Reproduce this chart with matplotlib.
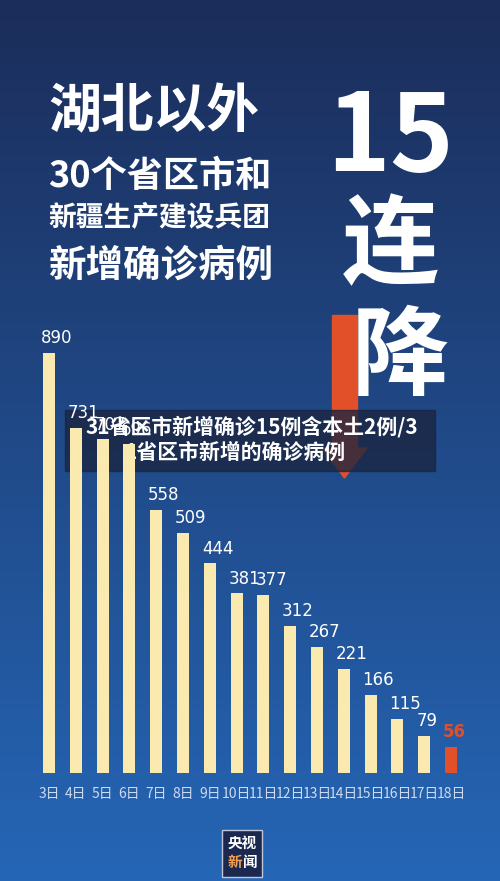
import matplotlib
matplotlib.use("Agg")
import matplotlib.pyplot as plt
import numpy as np
from matplotlib.patches import Rectangle

days = ["3日","4日","5日","6日","7日","8日","9日","10日","11日","12日","13日","14日","15日","16日","17日","18日"]
values = [890, 731, 707, 696, 558, 509, 444, 381, 377, 312, 267, 221, 166, 115, 79, 56]

plt.rcParams['font.family'] = ['Noto Sans CJK SC', 'DejaVu Sans']
W, H = 500, 881
fig = plt.figure(figsize=(W/100, H/100), dpi=100)

def fx(px): return px / W

bg = fig.add_axes([0, 0, 1, 1])
top = np.array([0x1b, 0x2d, 0x5a]) / 255
bot = np.array([0x25, 0x66, 0xb6]) / 255
t = np.linspace(0, 1, 256)[:, None]
grad = top * (1 - t) + bot * t
bg.imshow(grad[:, None, :].repeat(2, axis=1), aspect='auto', extent=[0, W, H, 0])
bg.set_xlim(0, W); bg.set_ylim(H, 0); bg.axis('off')

white = 'white'
bg.text(48, 112, "湖北以外", fontsize=38, fontweight='bold', color=white, va='center', ha='left')
bg.text(48, 177, "30个省区市和", fontsize=26, fontweight='bold', color=white, va='center', ha='left')
bg.text(48, 217, "新疆生产建设兵团", fontsize=20, fontweight='bold', color=white, va='center', ha='left')
bg.text(48, 265, "新增确诊病例", fontsize=27, fontweight='bold', color=white, va='center', ha='left')

bg.add_patch(Rectangle((332, 315), 25, 135, color='#e2502a', zorder=2))
bg.add_patch(plt.Polygon([[322, 448], [367, 448], [344.5, 478]], color='#e2502a', zorder=2))
bg.text(390, 140, "15", fontsize=78, fontweight='bold', color=white, va='center', ha='center', zorder=3)
bg.text(390, 248, "连", fontsize=70, fontweight='bold', color=white, va='center', ha='center', zorder=3)
bg.text(400, 358, "降", fontsize=70, fontweight='bold', color=white, va='center', ha='center', zorder=3)

ax = fig.add_axes([fx(35.6), 108/H, fx(464.4-35.6), 472/H])
ax.patch.set_alpha(0)
x = np.arange(len(values))
colors = ['#fbeab0'] * (len(values) - 1) + ['#e2502a']
ax.bar(x, values, width=0.45, color=colors)
for i, v in enumerate(values):
    last = i == len(values) - 1
    ax.text(i - 0.3, v + 12, str(v), fontsize=12, color='#e2502a' if last else 'white',
            fontweight='bold' if last else 'normal', family='DejaVu Sans', ha='left', va='bottom')
ax.set_xlim(-0.5, len(values) - 0.5)
ax.set_ylim(0, 1000)
ax.axis('off')
for i, d in enumerate(days):
    ax.text(i, -45, d, fontsize=10, color='#cfdaf0', ha='center', va='center')

bg.add_patch(Rectangle((65, 410), 370, 61, color='#1a2540', alpha=0.78, zorder=5))
bg.text(252, 427, "31省区市新增确诊15例含本土2例/3", fontsize=15, fontweight='bold', color=white, ha='center', va='center', zorder=6)
bg.text(235, 452, "1省区市新增的确诊病例", fontsize=15, fontweight='bold', color=white, ha='center', va='center', zorder=6)

bg.add_patch(Rectangle((222, 830), 40, 47, facecolor='#1b2850', edgecolor='#c0c8d8', lw=1, zorder=5))
bg.text(242, 843, "央视", fontsize=10.5, fontweight='bold', color=white, ha='center', va='center', zorder=6)
bg.text(235, 862, "新", fontsize=10.5, fontweight='bold', color='#f0a050', ha='center', va='center', zorder=6)
bg.text(250, 862, "闻", fontsize=10.5, fontweight='bold', color=white, ha='center', va='center', zorder=6)

fig.savefig("out.png", dpi=100)
